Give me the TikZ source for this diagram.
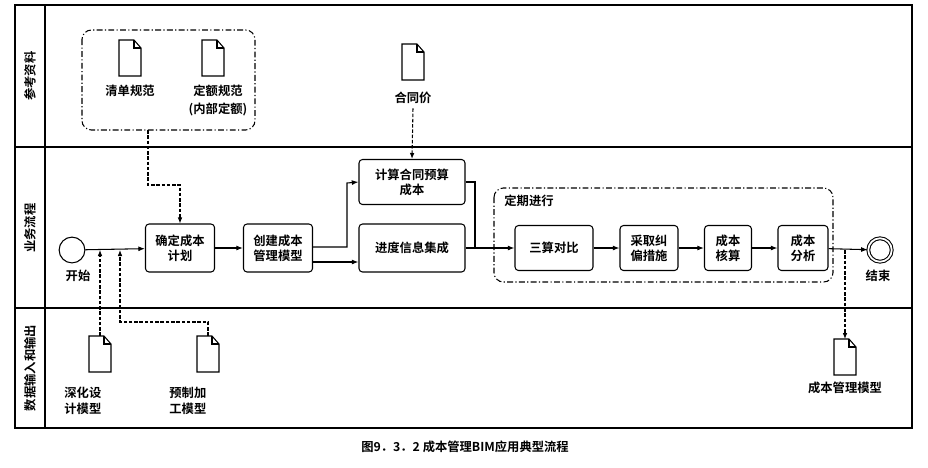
\documentclass[tikz,border=0pt]{standalone}
\usepackage{fontspec}
\setmainfont{Noto Sans CJK SC Bold}
\usetikzlibrary{arrows.meta, positioning, calc}

\begin{document}
\begin{tikzpicture}[
  x=0.03cm, y=-0.03cm,
  font=\fontsize{10.5}{13}\selectfont,
  line width=0.9pt,
  task/.style  = {draw, rounded corners=3pt, align=center, inner sep=1pt},
  group/.style = {draw, dash pattern=on 5pt off 2pt on 1pt off 2pt, rounded corners=8pt},
  flow/.style  = {-{Latex[length=2mm, width=1.5mm]}},
  assoc/.style = {dash pattern=on 3pt off 1.5pt, -{Latex[length=1.8mm, width=1.4mm]}},
  lane/.style  = {rotate=90, anchor=center}
]
  \useasboundingbox (0,0) rectangle (928,467);

  % lanes
  \draw (15,5) rectangle (912,428);
  \draw (45,5) -- (45,428);
  \draw (15,147) -- (912,147);
  \draw (15,308) -- (912,308);
  \node[lane] at (30,76) {参考资料};
  \node[lane] at (30,228) {业务流程};
  \node[lane] at (30,368) {数据输入和输出};

  % document icon macro
  \newcommand{\docicon}[2]{%
    \coordinate (#1) at (#2);
    \draw ($(#1)+(-11,-18)$) -- ($(#1)+(4,-18)$) -- ($(#1)+(11,-10)$)
      -- ($(#1)+(11,18)$) -- ($(#1)+(-11,18)$) -- cycle;
    \draw ($(#1)+(4,-18)$) -- ($(#1)+(4,-10)$) -- ($(#1)+(11,-10)$);
  }

  % reference group
  \draw[group] (82,30) rectangle (255,130);
  \coordinate (refgroup) at (148,130);
  \docicon{qd}{130,58}
  \node at (130,91) {清单规范};
  \docicon{de}{213,58}
  \node at (218,91) {定额规范};
  \node at (218,109) {(内部定额)};
  \docicon{ht}{413,62}
  \node (htl) at (413,98) {合同价};

  % start and end
  \node[draw, circle, minimum size=22] (start) at (72,250) {};
  \node at (78,276) {开始};
  \node[draw, circle, double, double distance=1.5pt, minimum size=20] (end) at (880,250) {};
  \node at (878,276) {结束};

  % tasks
  \node[task, minimum width=69*0.03cm, minimum height=48*0.03cm] (plan) at (180,248) {确定成本\\计划};
  \node[task, minimum width=69*0.03cm, minimum height=48*0.03cm] (model) at (278,248) {创建成本\\管理模型};
  \node[task, minimum width=106*0.03cm, minimum height=45*0.03cm] (contract) at (412,182) {计算合同预算\\成本};
  \node[task, minimum width=106*0.03cm, minimum height=48*0.03cm] (progress) at (412,248) {进度信息集成};

  % periodic group
  \draw[group] (494,188) rectangle (833,282);
  \node[anchor=west] at (500,201) {定期进行};
  \node[task, minimum width=78*0.03cm, minimum height=45*0.03cm] (compare) at (554,248) {三算对比};
  \node[task, minimum width=58*0.03cm, minimum height=45*0.03cm] (correct) at (649,248) {采取纠\\偏措施};
  \node[task, minimum width=47*0.03cm, minimum height=45*0.03cm] (account) at (728,248) {成本\\核算};
  \node[task, minimum width=50*0.03cm, minimum height=45*0.03cm] (analysis) at (803,248) {成本\\分析};

  % data docs
  \docicon{sh}{100,354}
  \node[align=left, anchor=north west] at (60,383) {深化设\\计模型};
  \docicon{yz}{208,354}
  \node[align=left, anchor=north west] at (165,383) {预制加\\工模型};
  \docicon{cb}{845,357}
  \node at (845,388) {成本管理模型};

  % sequence flows
  \draw[flow] (start) -- (plan);
  \draw[flow] (plan) -- (model);
  \draw[flow] ($(model.east)+(0,-1)$) -| (347,183) -- (contract.west);
  \draw[flow] ($(model.east)+(0,14)$) -- (progress.west |- 262,262);
  \draw (contract.east) -| (475,248);
  \draw[flow] (progress.east) -- (compare.west);
  \draw[flow] (compare) -- (correct);
  \draw[flow] (correct) -- (account);
  \draw[flow] (account) -- (analysis);
  \draw[flow] (analysis) -- (end);

  % data associations
  \draw[assoc] (refgroup) |- (180,185) -- (plan.north);
  \draw[assoc] (htl.south) -- (contract.north);
  \draw[assoc] ($(sh)+(0,-18)$) -- (100,250);
  \draw[assoc] ($(yz)+(0,-18)$) |- (120,322) -- (120,250);
  \draw[assoc] (845,250) -- ($(cb)+(0,-18)$);

  % caption
  \node at (465,447) {图9．3．2 成本管理BIM应用典型流程};
\end{tikzpicture}
\end{document}
